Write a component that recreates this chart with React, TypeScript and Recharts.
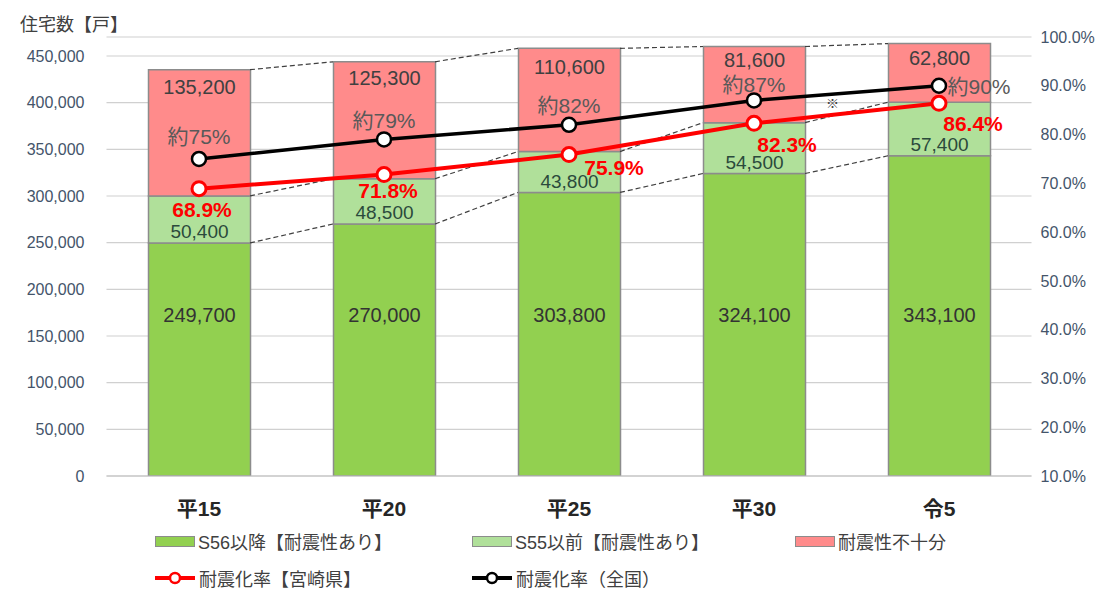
import React from 'react';
import {
  ComposedChart,
  Bar,
  Line,
  XAxis,
  YAxis,
  CartesianGrid,
  LabelList,
  ReferenceLine,
} from 'recharts';

// ---- data ----
const categories = ['平15', '平20', '平25', '平30', '令5'];
const seismicAfterS56 = [249700, 270000, 303800, 324100, 343100];
const seismicBeforeS55 = [50400, 48500, 43800, 54500, 57400];
const insufficient = [135200, 125300, 110600, 81600, 62800];
const rateMiyazaki = [68.9, 71.8, 75.9, 82.3, 86.4];
const rateNational = [75, 79, 82, 87, 90];
const leftTicks = [0, 50000, 100000, 150000, 200000, 250000, 300000, 350000, 400000, 450000];
const rightTicks = [10, 20, 30, 40, 50, 60, 70, 80, 90, 100];

const seriesNames = {
  a: 'S56以降【耐震性あり】',
  b: 'S55以前【耐震性あり】',
  c: '耐震性不十分',
  miyazaki: '耐震化率【宮崎県】',
  national: '耐震化率（全国）',
};

const data = categories.map((cat, i) => ({
  cat,
  a: seismicAfterS56[i],
  b: seismicBeforeS55[i],
  c: insufficient[i],
  miyazaki: rateMiyazaki[i],
  national: rateNational[i],
}));

// ---- style ----
const FONT = "'Liberation Sans', 'Noto Sans CJK JP', sans-serif";
const BAR_SIZE = 102;
const C_DARK = '#92D050';
const C_LIGHT = '#B0E09A';
const C_PINK = '#FF8B8B';
const BAR_STROKE = '#8C8C8C';
const TEXT = '#404040';
const AXIS_TEXT = '#44546A';

const redOffsets = [
  [3, 21],
  [4, 16],
  [45, 13],
  [33, 21],
  [34, 20],
];
const blackOffsets = [
  [0, -22],
  [0, -19],
  [0, -19],
  [0, -16],
  [40, 1],
];
const pinkOffsets = [17, 16, 19, 14, 14];

const fmt = (v: number) => v.toLocaleString('en-US');

const DarkLabel = (p: any) => (
  <text
    x={p.x + p.width / 2}
    y={p.y + p.height - 161}
    textAnchor="middle"
    dominantBaseline="central"
    fontSize={20}
    fill="#333333"
    fontFamily={FONT}
  >
    {fmt(Number(p.value))}
  </text>
);

const LightLabel = (p: any) => (
  <text
    x={p.x + p.width / 2}
    y={p.y + p.height - 11}
    textAnchor="middle"
    dominantBaseline="central"
    fontSize={19}
    fill="#2B4A3C"
    fontFamily={FONT}
  >
    {fmt(Number(p.value))}
  </text>
);

const PinkLabel = (p: any) => (
  <text
    x={p.x + p.width / 2}
    y={p.y + (pinkOffsets[p.index] ?? 16)}
    textAnchor="middle"
    dominantBaseline="central"
    fontSize={20}
    fill={TEXT}
    fontFamily={FONT}
  >
    {fmt(Number(p.value))}
  </text>
);

const RedLabel = (p: any) => {
  const o = redOffsets[p.index] || [0, 20];
  return (
    <text
      x={p.x + o[0]}
      y={p.y + o[1]}
      textAnchor="middle"
      dominantBaseline="central"
      fontSize={21}
      fontWeight="bold"
      fill="#FF0000"
      fontFamily={FONT}
    >
      {`${Number(p.value).toFixed(1)}%`}
    </text>
  );
};

const BlackLabel = (p: any) => {
  const o = blackOffsets[p.index] || [0, -20];
  return (
    <text
      x={p.x + o[0]}
      y={p.y + o[1]}
      textAnchor="middle"
      dominantBaseline="central"
      fontSize={21}
      fill="#595959"
      fontFamily={FONT}
    >
      {`約${p.value}%`}
    </text>
  );
};

const XTick = (p: any) => (
  <text
    x={p.x}
    y={p.y + 32}
    textAnchor="middle"
    dominantBaseline="central"
    fontSize={21}
    fontWeight="bold"
    fill="#262626"
    fontFamily={FONT}
  >
    {p.payload.value}
  </text>
);

const Connector = (p: any) => (
  <line
    x1={p.x1 + BAR_SIZE / 2}
    y1={p.y1}
    x2={p.x2 - BAR_SIZE / 2}
    y2={p.y2}
    stroke="#404040"
    strokeWidth={1.2}
    strokeDasharray="5 3"
  />
);

const levels = (i: number) => [
  seismicAfterS56[i],
  seismicAfterS56[i] + seismicBeforeS55[i],
  seismicAfterS56[i] + seismicBeforeS55[i] + insufficient[i],
];

const connectors: { from: number; to: number; y1: number; y2: number }[] = [];
for (let i = 0; i < categories.length - 1; i++) {
  const l1 = levels(i);
  const l2 = levels(i + 1);
  for (let k = 0; k < 3; k++) connectors.push({ from: i, to: i + 1, y1: l1[k], y2: l2[k] });
}

const LegendRect = ({ color }: { color: string }) => (
  <span
    style={{
      display: 'inline-block',
      width: 40,
      height: 11,
      background: color,
      border: `1px solid ${BAR_STROKE}`,
      boxSizing: 'border-box',
      marginRight: 3,
    }}
  />
);

const LegendLine = ({ color }: { color: string }) => (
  <svg width={42} height={14} style={{ marginRight: 3 }}>
    <line x1={1} y1={7} x2={41} y2={7} stroke={color} strokeWidth={4} />
    <circle cx={21} cy={7} r={5} fill="#fff" stroke={color} strokeWidth={2.5} />
  </svg>
);

const legendItem = (left: number, top: number, icon: React.ReactNode, label: string) => (
  <div
    style={{
      position: 'absolute',
      left,
      top,
      display: 'flex',
      alignItems: 'center',
      fontFamily: FONT,
      fontSize: 18,
      color: TEXT,
      whiteSpace: 'nowrap',
      height: 24,
    }}
  >
    {icon}
    <span>{label}</span>
  </div>
);

export default function App() {
  return (
    <div
      style={{
        position: 'absolute',
        left: 0,
        top: 0,
        width: 1104,
        height: 590,
        background: '#ffffff',
        overflow: 'hidden',
      }}
    >
      <div
        style={{
          position: 'absolute',
          left: 20,
          top: 10,
          fontFamily: FONT,
          fontSize: 18,
          color: TEXT,
          whiteSpace: 'nowrap',
        }}
      >
        住宅数【戸】
      </div>
      <ComposedChart
        width={1104}
        height={590}
        data={data}
        margin={{ top: 37, right: 0, bottom: 74, left: 46.5 }}
        barCategoryGap={0}
      >
        <CartesianGrid vertical={false} yAxisId="left" stroke="#D0D0D0" strokeWidth={1.2} />
        <XAxis
          dataKey="cat"
          height={40}
          tickLine={false}
          tickSize={0}
          tickMargin={0}
          axisLine={{ stroke: '#BFBFBF', strokeWidth: 1.2 }}
          tick={<XTick />}
          interval={0}
        />
        <YAxis
          yAxisId="left"
          orientation="left"
          width={60}
          domain={[0, 470357]}
          ticks={leftTicks}
          allowDataOverflow
          axisLine={false}
          tickLine={false}
          tickSize={0}
          tickMargin={22}
          tickFormatter={fmt}
          tick={{ fontSize: 16, fill: AXIS_TEXT, fontFamily: FONT }}
        />
        <YAxis
          yAxisId="right"
          orientation="right"
          width={72.5}
          domain={[10, 100]}
          ticks={rightTicks}
          axisLine={false}
          tickLine={false}
          tickSize={0}
          tickMargin={9}
          tickFormatter={(v: number) => `${v.toFixed(1)}%`}
          tick={{ fontSize: 16, fill: AXIS_TEXT, fontFamily: FONT }}
        />
        <Bar
          yAxisId="left"
          dataKey="a"
          name={seriesNames.a}
          stackId="s"
          fill={C_DARK}
          stroke={BAR_STROKE}
          strokeWidth={1.5}
          barSize={BAR_SIZE}
          isAnimationActive={false}
        >
          <LabelList dataKey="a" content={<DarkLabel />} />
        </Bar>
        <Bar
          yAxisId="left"
          dataKey="b"
          name={seriesNames.b}
          stackId="s"
          fill={C_LIGHT}
          stroke={BAR_STROKE}
          strokeWidth={1.5}
          barSize={BAR_SIZE}
          isAnimationActive={false}
        >
          <LabelList dataKey="b" content={<LightLabel />} />
        </Bar>
        <Bar
          yAxisId="left"
          dataKey="c"
          name={seriesNames.c}
          stackId="s"
          fill={C_PINK}
          stroke={BAR_STROKE}
          strokeWidth={1.5}
          barSize={BAR_SIZE}
          isAnimationActive={false}
        >
          <LabelList dataKey="c" content={<PinkLabel />} />
        </Bar>
        {connectors.map((c, i) => (
          <ReferenceLine
            key={i}
            yAxisId="left"
            ifOverflow="visible"
            segment={[
              { x: categories[c.from], y: c.y1 },
              { x: categories[c.to], y: c.y2 },
            ]}
            shape={Connector}
          />
        ))}
        <Line
          yAxisId="right"
          dataKey="national"
          name={seriesNames.national}
          stroke="#000000"
          strokeWidth={3.5}
          dot={{ r: 7, fill: '#ffffff', stroke: '#000000', strokeWidth: 2.5 }}
          activeDot={false}
          isAnimationActive={false}
        >
          <LabelList dataKey="national" content={<BlackLabel />} />
        </Line>
        <Line
          yAxisId="right"
          dataKey="miyazaki"
          name={seriesNames.miyazaki}
          stroke="#FF0000"
          strokeWidth={4}
          dot={{ r: 7, fill: '#ffffff', stroke: '#FF0000', strokeWidth: 3 }}
          activeDot={false}
          isAnimationActive={false}
        >
          <LabelList dataKey="miyazaki" content={<RedLabel />} />
        </Line>
      </ComposedChart>
      <div
        style={{
          position: 'absolute',
          left: 826,
          top: 93,
          fontFamily: FONT,
          fontSize: 13,
          color: TEXT,
        }}
      >
        ※
      </div>
      {legendItem(155, 529, <LegendRect color={C_DARK} />, seriesNames.a)}
      {legendItem(472, 529, <LegendRect color={C_LIGHT} />, seriesNames.b)}
      {legendItem(795, 529, <LegendRect color={C_PINK} />, seriesNames.c)}
      {legendItem(154, 566, <LegendLine color="#FF0000" />, seriesNames.miyazaki)}
      {legendItem(471, 566, <LegendLine color="#000000" />, seriesNames.national)}
    </div>
  );
}
